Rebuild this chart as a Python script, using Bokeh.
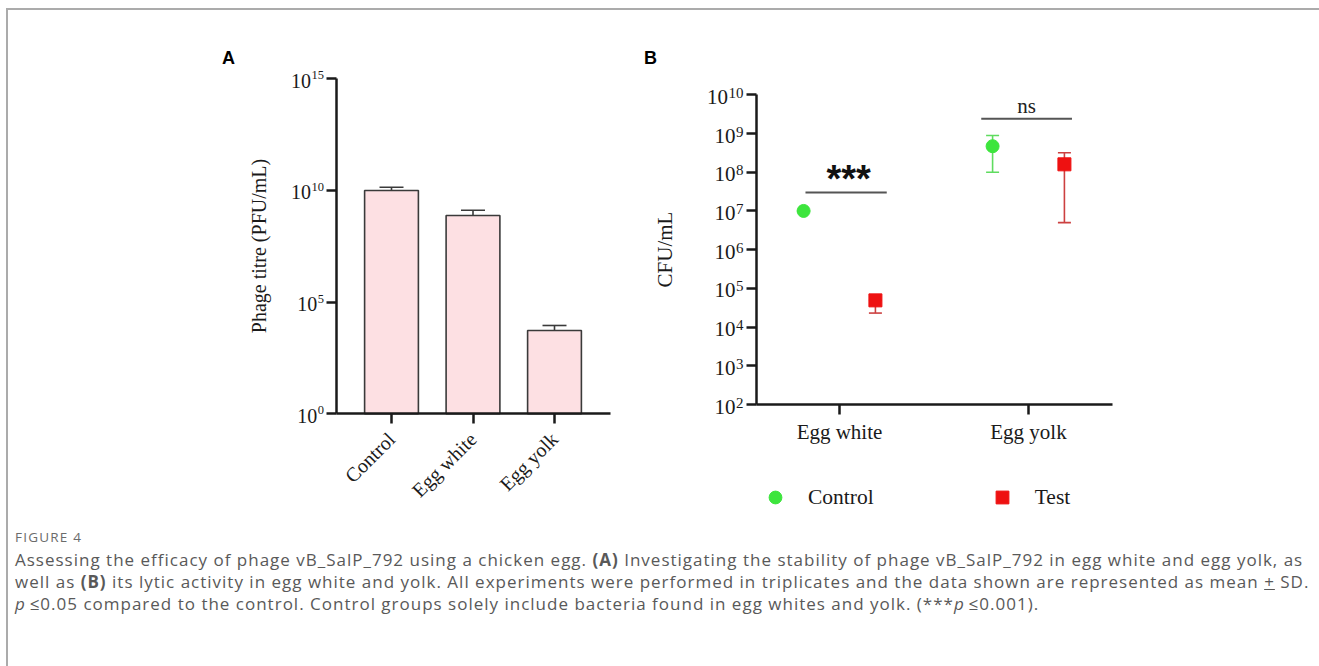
from bokeh.plotting import figure
from bokeh.models import (ColumnDataSource, Whisker, TeeHead, FixedTicker, CustomJSTickFormatter,
                          Label, Legend, LegendItem, Range1d, Div)
from bokeh.layouts import row, column
from bokeh.transform import dodge
from bokeh.core.properties import value
from bokeh.embed import file_html
from bokeh.resources import INLINE

# ---------------- data ----------------
# Panel A: phage titre (PFU/mL)
titre_categories = ["Control", "Egg white", "Egg yolk"]
titre_mean = [1.0e10, 7.6e8, 5.4e3]
titre_upper = [1.4e10, 1.3e9, 9.0e3]
titre_tick_exponents = [0, 5, 10, 15]

# Panel B: CFU/mL
cfu_categories = ["Egg white", "Egg yolk"]
control_mean = [1.0e7, 4.7e8]
control_lower = [1.0e7, 1.0e8]
control_upper = [1.0e7, 8.9e8]
test_mean = [4.9e4, 1.6e8]
test_lower = [2.3e4, 5.0e6]
test_upper = [4.9e4, 3.2e8]
cfu_tick_exponents = [2, 3, 4, 5, 6, 7, 8, 9, 10]
series_labels = ["Control", "Test"]

# significance brackets (x in category units, y in CFU/mL)
sig_labels = ["***", "ns"]
sig_level = [3.0e7, 2.4e9]
sig_x0 = [-0.18, 0.75]
sig_x1 = [0.25, 1.23]
sig_xmid = [0.048, 0.99]

caption_title = "FIGURE 4"
caption_lines = [
    "Assessing the efficacy of phage vB_SalP_792 using a chicken egg. <b>(A)</b> Investigating the stability of phage vB_SalP_792 in egg white and egg yolk, as",
    "well as <b>(B)</b> its lytic activity in egg white and yolk. All experiments were performed in triplicates and the data shown are represented as mean <u>+</u> SD.",
    "<i>p</i>&thinsp;&le;0.05 compared to the control. Control groups solely include bacteria found in egg whites and yolk. (***<i>p</i>&thinsp;&le;0.001).",
]

SERIF = "Liberation Serif"
SANS = "Liberation Sans"
INK = "#1a1a1a"

# ---------------- layout geometry (window pixels) ----------------
TOP = 10          # top of both canvases
H = 515           # canvas height
A_LEFT, A_W = 8, 617
B_LEFT, B_W = 625, 692


def lin_range(left, width, anchor_px, px_per_unit):
    return Range1d((left - anchor_px) / px_per_unit, (left + width - anchor_px) / px_per_unit)


def log_range(anchor_px, anchor_exp, px_per_decade):
    lo = anchor_exp - (TOP + H - anchor_px) / px_per_decade
    hi = anchor_exp + (anchor_px - TOP) / px_per_decade
    return Range1d(10 ** lo, 10 ** hi)


def style_axes(p, font_size):
    for ax in (p.xaxis[0], p.yaxis[0]):
        ax.axis_line_width = 2.5
        ax.axis_line_color = INK
        ax.major_tick_line_width = 2.5
        ax.major_tick_line_color = INK
        ax.major_tick_out = 10
        ax.major_tick_in = 0
        ax.minor_tick_out = 0
        ax.minor_tick_in = 0
        ax.major_label_text_font = SERIF
        ax.major_label_text_font_size = font_size
        ax.major_label_text_color = INK
        ax.axis_label_text_font = SERIF
        ax.axis_label_text_font_style = "normal"
        ax.axis_label_text_font_size = font_size
        ax.axis_label_text_color = INK
    p.xgrid.visible = False
    p.ygrid.visible = False
    p.outline_line_color = None


def log_tick_labels(p, exponents, axis_x, base_size, exp_size):
    ticks = [10.0 ** e for e in exponents]
    exps = [str(e) for e in exponents]
    src = ColumnDataSource(dict(
        x=[axis_x] * len(ticks), y=ticks, base=["10"] * len(ticks), exp=exps,
        bx=[-(13 + 0.5 * exp_size * len(s) + 0.5) for s in exps]))
    shift = -5
    p.text(x="x", y="y", text="base", x_offset="bx", y_offset=0.338 * base_size + shift, source=src,
           text_align="right", text_baseline="alphabetic", text_font=value(SERIF),
           text_font_size=f"{base_size}px", text_color=INK)
    p.text(x="x", y="y", text="exp", x_offset=-13,
           y_offset=-0.338 * base_size + 0.676 * exp_size + shift,
           source=src, text_align="right", text_baseline="alphabetic", text_font=value(SERIF),
           text_font_size=f"{exp_size}px", text_color=INK)
    return ticks


# ---------------- Panel A ----------------
A_AXIS_X = -0.669   # category units where the y axis sits
A_X_END = 2.687
pa = figure(width=A_W, height=H, title=None,
            x_range=lin_range(A_LEFT, A_W, 391, 81.5), y_range=log_range(413.3, 0, 22.333),
            y_axis_type="log", output_backend="svg", toolbar_location=None,
            min_border_left=0, min_border_right=0, min_border_top=0, min_border_bottom=0)
src_a = ColumnDataSource(dict(x=list(range(len(titre_categories))), top=titre_mean, upper=titre_upper))
pa.vbar(x="x", top="top", bottom=1, width=0.66, source=src_a,
        fill_color="#fde0e3", line_color="#3a3a3a", line_width=1.6)
pa.add_layout(Whisker(source=src_a, base="x", upper="upper", lower="top", dimension="height",
                      line_color="#3a3a3a", line_width=1.6,
                      upper_head=TeeHead(size=24, line_color="#3a3a3a", line_width=1.6),
                      lower_head=None))
style_axes(pa, "20px")
ticks_a = log_tick_labels(pa, titre_tick_exponents, A_AXIS_X, 20, 12.5)
pa.yaxis.ticker = FixedTicker(ticks=ticks_a, minor_ticks=[])
pa.yaxis.formatter = CustomJSTickFormatter(code='return ""')
pa.yaxis.fixed_location = A_AXIS_X
pa.yaxis.bounds = (ticks_a[0], ticks_a[-1])
pa.yaxis.axis_label = "Phage titre (PFU/mL)"
pa.yaxis.major_label_standoff = 3
pa.yaxis.axis_label_standoff = 57
pa.xaxis.ticker = FixedTicker(ticks=list(range(len(titre_categories))), minor_ticks=[])
pa.xaxis.major_label_overrides = {i: c for i, c in enumerate(titre_categories)}
pa.xaxis.major_label_orientation = 0.785398
pa.xaxis.major_label_standoff = 12
pa.xaxis.fixed_location = ticks_a[0]
pa.xaxis.bounds = (A_AXIS_X, A_X_END)
pa.add_layout(Label(x=228 - A_LEFT, y=H - (57 - TOP), x_units="screen", y_units="screen", text="A",
                    text_font=SANS, text_font_style="bold", text_font_size="18px",
                    text_align="center", text_baseline="middle", text_color="#000"))

# ---------------- Panel B ----------------
B_AXIS_X = -0.439
B_X_END = 1.444
pb = figure(width=B_W, height=H, title=None,
            x_range=lin_range(B_LEFT, B_W, 839, 189), y_range=log_range(404, 2, 38.71),
            y_axis_type="log", output_backend="svg", toolbar_location=None,
            min_border_left=0, min_border_right=0, min_border_top=0, min_border_bottom=0)
xi = list(range(len(cfu_categories)))
src_c = ColumnDataSource(dict(x=xi, y=control_mean, lo=control_lower, hi=control_upper))
src_t = ColumnDataSource(dict(x=xi, y=test_mean, lo=test_lower, hi=test_upper))

pb.add_layout(Whisker(source=src_c, base=dodge("x", -0.19), upper="hi", lower="lo", dimension="height",
                      line_color="#5fdc5f", line_width=1.6,
                      upper_head=TeeHead(size=13, line_color="#5fdc5f", line_width=1.6),
                      lower_head=TeeHead(size=13, line_color="#5fdc5f", line_width=1.6)))
pb.add_layout(Whisker(source=src_t, base=dodge("x", 0.19), upper="hi", lower="lo", dimension="height",
                      line_color="#cc4040", line_width=1.6,
                      upper_head=TeeHead(size=13, line_color="#cc4040", line_width=1.6),
                      lower_head=TeeHead(size=13, line_color="#cc4040", line_width=1.6)))
rc = pb.scatter(x=dodge("x", -0.19), y="y", source=src_c, marker="circle", size=13,
                fill_color="#3de53d", line_color="#3de53d")
rt = pb.scatter(x=dodge("x", 0.19), y="y", source=src_t, marker="square", size=13,
                fill_color="#ee1111", line_color="#ee1111")

src_s = ColumnDataSource(dict(x0=sig_x0, x1=sig_x1, xm=sig_xmid, y=sig_level, t=sig_labels))
pb.segment(x0="x0", x1="x1", y0="y", y1="y", source=src_s, line_color="#555555", line_width=2)
pb.text(x=[sig_xmid[0]], y=[sig_level[0]], text=[sig_labels[0]], text_font=value(SANS),
        text_font_style="bold", text_font_size="38px", text_align="center",
        text_baseline="alphabetic", y_offset=-13, text_color="#111")
pb.text(x=[sig_xmid[1]], y=[sig_level[1]], text=[sig_labels[1]], text_font=value(SERIF),
        text_font_size="21px", text_align="center", text_baseline="alphabetic",
        y_offset=-13, text_color="#222")

style_axes(pb, "21px")
ticks_b = log_tick_labels(pb, cfu_tick_exponents, B_AXIS_X, 21, 15)
pb.yaxis.ticker = FixedTicker(ticks=ticks_b, minor_ticks=[])
pb.yaxis.formatter = CustomJSTickFormatter(code='return ""')
pb.yaxis.fixed_location = B_AXIS_X
pb.yaxis.bounds = (ticks_b[0], ticks_b[-1])
pb.yaxis.axis_label = "CFU/mL"
pb.yaxis.major_label_standoff = 3
pb.yaxis.axis_label_standoff = 70
pb.xaxis.ticker = FixedTicker(ticks=xi, minor_ticks=[])
pb.xaxis.major_label_overrides = {i: c for i, c in enumerate(cfu_categories)}
pb.xaxis.major_label_standoff = 5
pb.xaxis.fixed_location = ticks_b[0]
pb.xaxis.bounds = (B_AXIS_X, B_X_END)

legend = Legend(items=[LegendItem(label=series_labels[0], renderers=[rc]),
                       LegendItem(label=series_labels[1], renderers=[rt])],
                orientation="horizontal", location=(134, 12),
                glyph_width=32, glyph_height=32, label_standoff=17, spacing=112, padding=4,
                border_line_color=None, background_fill_alpha=0,
                label_text_font=SERIF, label_text_font_size="21.5px", label_text_color=INK)
pb.add_layout(legend)
pb.add_layout(Label(x=650 - B_LEFT, y=H - (57.5 - TOP), x_units="screen", y_units="screen", text="B",
                    text_font=SANS, text_font_style="bold", text_font_size="18px",
                    text_align="center", text_baseline="middle", text_color="#000"))

# ---------------- caption ----------------
caption = Div(width=A_W + B_W, height=139, text=(
    '<div style="font-family:\'Open Sans\';color:#595959;padding-left:2px;">'
    '<div style="font-size:13.5px;line-height:14px;letter-spacing:1.2px;color:#6b6b6b;">'
    + caption_title + '</div>'
    '<div style="font-size:17px;line-height:22px;margin-top:5px;letter-spacing:1.0px;white-space:nowrap;">'
    + "<br>".join(caption_lines) + '</div></div>'))

layout = column(row(pa, pb), caption,
                styles={"border-top": "2px solid #ababab", "border-left": "2px solid #ababab",
                        "margin-left": "6px", "margin-top": "8px"})

with open("out.html", "w", encoding="utf-8") as f:
    f.write(file_html(layout, INLINE))
